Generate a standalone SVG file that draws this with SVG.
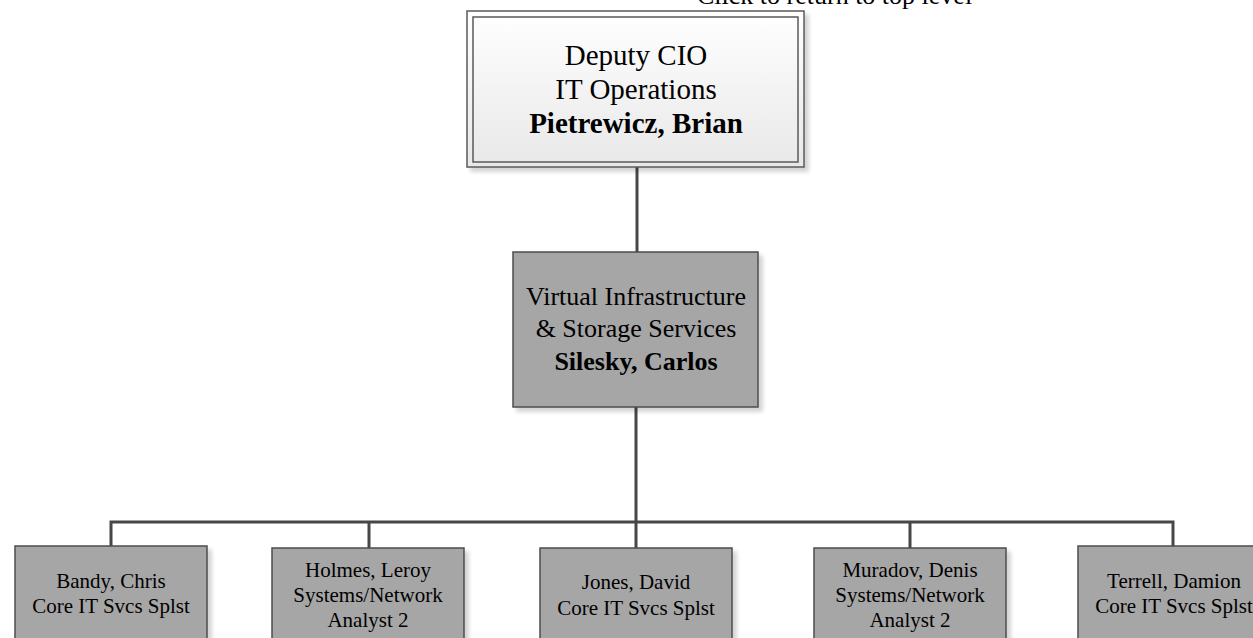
<svg xmlns="http://www.w3.org/2000/svg" width="1253" height="638" viewBox="0 0 1253 638">
<defs>
  <linearGradient id="topfill" x1="0" y1="0" x2="0" y2="1">
    <stop offset="0" stop-color="#ffffff"/>
    <stop offset="1" stop-color="#e8e8e8"/>
  </linearGradient>
  <filter id="shadow" x="-10%" y="-10%" width="130%" height="130%">
    <feGaussianBlur in="SourceAlpha" stdDeviation="2"/>
    <feOffset dx="4" dy="4" result="b"/>
    <feComponentTransfer><feFuncA type="linear" slope="0.18"/></feComponentTransfer>
    <feMerge><feMergeNode/><feMergeNode in="SourceGraphic"/></feMerge>
  </filter>
</defs>
<style>
  .t { font-family: "Liberation Serif", "Times New Roman", serif; fill: #000; text-anchor: middle; }
  .b { font-weight: bold; }
  .box { fill: #a6a6a6; stroke: #4d4d4d; stroke-width: 1.5; }
  .conn { stroke: #474747; stroke-width: 3; fill: none; }
</style>
<rect width="1253" height="638" fill="#ffffff"/>

<text class="t" x="697" y="4" style="text-anchor:start" font-size="26">Click to return to top level</text>

<g id="connectors">
  <line class="conn" x1="637" y1="167" x2="637" y2="252"/>
  <line class="conn" x1="636" y1="407" x2="636" y2="522"/>
  <polyline class="conn" points="111,546 111,522 1173,522 1173,546"/>
  <line class="conn" x1="369" y1="522" x2="369" y2="548"/>
  <line class="conn" x1="636" y1="522" x2="636" y2="548"/>
  <line class="conn" x1="910" y1="522" x2="910" y2="548"/>
</g>

<g id="node-deputy-cio">
  <g filter="url(#shadow)">
    <rect x="467" y="11" width="337" height="156" fill="url(#topfill)" stroke="#5a5a5a" stroke-width="1.5"/>
    <rect x="473" y="17" width="325" height="145" fill="none" stroke="#5a5a5a" stroke-width="1.5"/>
  </g>
  <text class="t" x="636" y="65" font-size="29">Deputy CIO</text>
  <text class="t" x="636" y="99" font-size="29">IT Operations</text>
  <text class="t b" x="636" y="133" font-size="29">Pietrewicz, Brian</text>
</g>

<g id="node-silesky">
  <rect class="box" x="513" y="252" width="245" height="155" filter="url(#shadow)"/>
  <text class="t" x="636" y="305" font-size="26">Virtual Infrastructure</text>
  <text class="t" x="636" y="337" font-size="26">&amp; Storage Services</text>
  <text class="t b" x="636" y="370" font-size="26">Silesky, Carlos</text>
</g>

<g id="node-bandy">
  <rect class="box" x="15" y="546" width="192" height="120" filter="url(#shadow)"/>
  <text class="t" x="111" y="588" font-size="21">Bandy, Chris</text>
  <text class="t" x="111" y="613" font-size="21">Core IT Svcs Splst</text>
</g>

<g id="node-holmes">
  <rect class="box" x="272" y="548" width="192" height="120" filter="url(#shadow)"/>
  <text class="t" x="368" y="577" font-size="21">Holmes, Leroy</text>
  <text class="t" x="368" y="602" font-size="21">Systems/Network</text>
  <text class="t" x="368" y="627" font-size="21">Analyst 2</text>
</g>

<g id="node-jones">
  <rect class="box" x="540" y="548" width="192" height="120" filter="url(#shadow)"/>
  <text class="t" x="636" y="589" font-size="21">Jones, David</text>
  <text class="t" x="636" y="615" font-size="21">Core IT Svcs Splst</text>
</g>

<g id="node-muradov">
  <rect class="box" x="814" y="548" width="192" height="120" filter="url(#shadow)"/>
  <text class="t" x="910" y="577" font-size="21">Muradov, Denis</text>
  <text class="t" x="910" y="602" font-size="21">Systems/Network</text>
  <text class="t" x="910" y="627" font-size="21">Analyst 2</text>
</g>

<g id="node-terrell">
  <rect class="box" x="1078" y="546" width="192" height="120" filter="url(#shadow)"/>
  <text class="t" x="1174" y="588" font-size="21">Terrell, Damion</text>
  <text class="t" x="1174" y="613" font-size="21">Core IT Svcs Splst</text>
</g>
</svg>
